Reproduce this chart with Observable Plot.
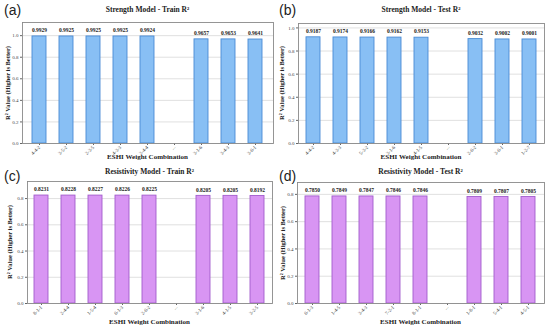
<!DOCTYPE html>
<html><head><meta charset="utf-8">
<script src="https://cdn.jsdelivr.net/npm/d3@7"></script>
<script src="https://cdn.jsdelivr.net/npm/@observablehq/plot@0.6"></script>
<style>
body{margin:0;background:#fff;}
#root{position:relative;width:550px;height:330px;overflow:hidden;background:#fff;}
.panel{position:absolute;width:275px;height:165px;}
.panel svg{position:absolute;left:0;top:0;}
.lbl{position:absolute;font-family:"Liberation Sans",Arial,sans-serif;font-size:14px;color:#222;}
.ttl{position:absolute;font-family:"Liberation Serif",serif;font-weight:bold;font-size:7.5px;color:#222;transform:translateX(-50%);white-space:nowrap;}
.xl{position:absolute;font-family:"Liberation Serif",serif;font-weight:bold;font-size:7px;color:#222;transform:translateX(-50%);white-space:nowrap;}
.yl{position:absolute;font-family:"Liberation Serif",serif;font-weight:bold;font-size:6.5px;color:#222;transform:translate(-50%,-50%) rotate(-90deg);white-space:nowrap;}
</style></head>
<body><div id="root"></div>
<script>
const catsA = ["4-4-2","3-5-2","2-3-5","4-3-3","2-4-4","...","3-1-6","3-4-3","3-6-1"];
const valsA = [0.9929,0.9925,0.9925,0.9925,0.9924,null,0.9657,0.9653,0.9641];
const catsB = ["4-4-2","4-3-3","5-3-2","3-1-6","4-1-5","...","2-6-2","3-6-1","1-2-7"];
const valsB = [0.9187,0.9174,0.9166,0.9162,0.9153,null,0.9032,0.9002,0.9001];
const catsC = ["8-1-1","2-4-4","1-5-4","6-1-3","2-6-2","...","3-1-6","4-1-5","3-2-5"];
const valsC = [0.8231,0.8228,0.8227,0.8226,0.8225,null,0.8205,0.8205,0.8192];
const catsD = ["6-1-3","1-4-5","3-4-3","7-2-1","8-1-1","...","1-8-1","5-4-1","4-5-1"];
const valsD = [0.7850,0.7849,0.7847,0.7846,0.7846,null,0.7809,0.7807,0.7805];
const ticksTop = [0,0.2,0.4,0.6,0.8,1.0];
const ticksBottom = [0,0.2,0.4,0.6,0.8];
const titles = ["Strength Model - Train R²","Strength Model - Test R²","Resistivity Model - Train R²","Resistivity Model - Test R²"];
const panelLabels = ["(a)","(b)","(c)","(d)"];
const xTitle = "ESHI Weight Combination";
const yTitle = "R² Value (Higher is Better)";

const blue = {fill:"#88bff4", stroke:"#4a8bd4"};
const purple = {fill:"#d895f3", stroke:"#a25ccc"};

const panels = [
  {cats:catsA, vals:valsA, ticks:ticksTop, col:blue, left:0, top:0, m:{t:22,b:22,l:22,r:2}},
  {cats:catsB, vals:valsB, ticks:ticksTop, col:blue, left:275, top:0, m:{t:23,b:22,l:23,r:6}},
  {cats:catsC, vals:valsC, ticks:ticksBottom, col:purple, left:0, top:165, m:{t:16,b:27,l:27,r:3}},
  {cats:catsD, vals:valsD, ticks:ticksBottom, col:purple, left:275, top:165, m:{t:17,b:27,l:22,r:6}}
];
const root = document.getElementById("root");
const serif = "Liberation Serif, serif";
panels.forEach((p,i)=>{
  const data = p.cats.map((c,j)=>({cat:c, val:p.vals[j]}));
  const bars = data.filter(d=>d.val!=null);
  const ymax = d3.max(p.vals)*1.13;
  const chart = Plot.plot({
    width:275, height:165,
    marginTop:p.m.t, marginBottom:p.m.b, marginLeft:p.m.l, marginRight:p.m.r,
    style:{fontFamily:serif, background:"transparent"},
    x:{domain:p.cats, paddingInner:0.47, paddingOuter:0.235},
    y:{domain:[0,ymax]},
    marks:[
      Plot.gridY(p.ticks, {stroke:"#d8d8d8", strokeOpacity:1, strokeWidth:0.8}),
      Plot.barY(bars, {x:"cat", y:"val", fill:p.col.fill, stroke:p.col.stroke, strokeWidth:0.9}),
      Plot.text(bars, {x:"cat", y:"val", text:d=>d.val.toFixed(4), dy:-6, fontSize:5.5, fontWeight:"bold", fontFamily:serif, fill:"#222"}),
      Plot.axisY(p.ticks, {tickFormat:d3.format(".1f"), tickSize:2, tickPadding:2, fontSize:5, label:null, stroke:"#666", fill:"#444"}),
      Plot.axisX({tickRotate:-45, tickSize:2, tickPadding:1, fontSize:5, label:null, stroke:"#666", fill:"#444"}),
      Plot.frame({stroke:"#8a8a8a", strokeWidth:0.9})
    ]
  });
  const div = document.createElement("div");
  div.className="panel"; div.style.left=p.left+"px"; div.style.top=p.top+"px";
  div.appendChild(chart);
  const fx0 = p.m.l, fx1 = 275-p.m.r, fy0 = p.m.t, fy1 = 165-p.m.b;
  const lab = document.createElement("div"); lab.className="lbl"; lab.textContent=panelLabels[i];
  lab.style.left="4px"; lab.style.top=(i<2?2:3)+"px"; div.appendChild(lab);
  const t = document.createElement("div"); t.className="ttl"; t.textContent=titles[i];
  t.style.left=((fx0+fx1)/2)+"px"; t.style.top=(i<2?5:2)+"px"; div.appendChild(t);
  const xl = document.createElement("div"); xl.className="xl"; xl.textContent=xTitle;
  xl.style.left=((fx0+fx1)/2)+"px"; xl.style.top="153px"; div.appendChild(xl);
  const yl = document.createElement("div"); yl.className="yl"; yl.textContent=yTitle;
  yl.style.left=(i===2?9:(i===1?6:7))+"px"; yl.style.top=((fy0+fy1)/2)+"px"; div.appendChild(yl);
  root.appendChild(div);
});
</script></body></html>
